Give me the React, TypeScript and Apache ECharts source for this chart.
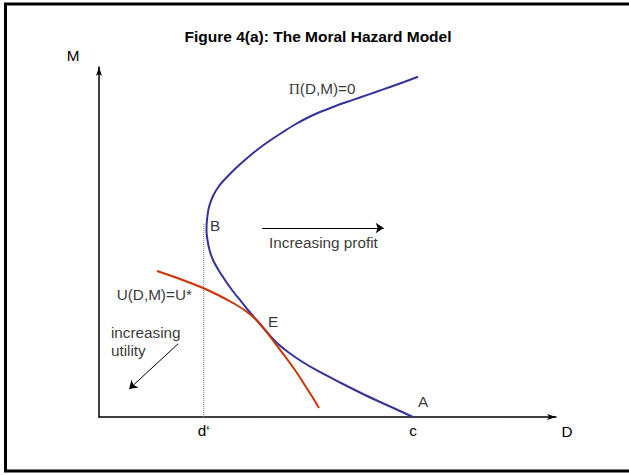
import React, { useEffect, useRef } from "react";
import * as echarts from "echarts";

// Zero-profit curve Π(D,M)=0, from A on the D axis, round the nose at B, up to the top
const profitCurve: [number, number][] = [
  [68.71, 0], [63.46, 3.14], [58.21, 6.29], [52.74, 9.86], [47.7, 13.29], [44.2, 16.0],
  [41.36, 18.57], [38.95, 21.14], [36.54, 24.57], [34.46, 27.71], [32.6, 30.57],
  [30.85, 33.43], [29.1, 36.29], [27.57, 39.14], [26.15, 42.0], [24.95, 44.86],
  [24.18, 47.71], [23.74, 50.57], [23.52, 53.43], [23.63, 56.29], [24.07, 60.0],
  [24.95, 63.14], [26.26, 66.0], [28.01, 68.57], [29.98, 71.14], [32.17, 73.71],
  [34.57, 76.29], [37.42, 79.0], [40.26, 81.43], [42.89, 83.57], [45.51, 85.43],
  [48.36, 87.14], [51.2, 88.57], [54.05, 89.91], [57.11, 91.29], [60.39, 92.77],
  [63.68, 94.29], [66.74, 95.71], [69.8, 97.2],
];

// Indifference curve U(D,M)=U*
const utilityCurve: [number, number][] = [
  [12.69, 41.71], [17.72, 39.43], [22.76, 36.86], [26.04, 34.86], [29.32, 32.57],
  [31.95, 30.43], [34.35, 27.86], [36.54, 24.57], [38.73, 20.71], [41.14, 16.57],
  [43.33, 12.57], [45.08, 9.0], [46.83, 5.43], [48.14, 2.57],
];

// Dotted guide from d' up to B
const guideLine: [number, number][] = [[22.9, 0], [22.9, 55.4]];

// Arrows: increasing profit, increasing utility
const profitArrow: [number, number][] = [[35.7, 54.0], [62.3, 54.0]];
const utilityArrow: [number, number][] = [[17.3, 20.9], [6.6, 8.0]];

// D-axis tick labels
const xTickValues = [22.9, 68.7];
const xTickLabels = ["d\u2018", "c"];

// Annotations (text, anchor D, anchor M)
const noteTexts = ["A", "B", "E", "{pi|\u03A0}(D,M)=0", "U(D,M)=U*", "increasing\nutility", "Increasing profit"];
const noteD = [70.9, 25.4, 38.1, 41.5, 12.1, 2.6, 37.2];
const noteM = [4.3, 54.6, 27.4, 94.0, 34.9, 21.7, 50.0];
const noteAlign = ["center", "center", "center", "left", "center", "left", "left"];

const titleText = "Figure 4(a): The Moral Hazard Model";

const FONT = "'Liberation Sans', Arial, sans-serif";

export default function App() {
  const ref = useRef<HTMLDivElement>(null);
  useEffect(() => {
    document.body.style.margin = "0";
    const chart = echarts.init(ref.current!, null, { renderer: "svg" });
    const notes = noteTexts.map((t, i) => ({
      value: [noteD[i], noteM[i]],
      label: { formatter: t, align: noteAlign[i] },
    }));
    const axisLine = {
      onZero: false,
      symbol: ["none", "arrow"],
      symbolSize: [4.5, 9],
      lineStyle: { color: "#000", width: 1.5 },
    };
    chart.setOption({
      animation: false,
      backgroundColor: "#fff",
      textStyle: { fontFamily: FONT },
      title: {
        text: titleText,
        left: 318,
        textAlign: "center",
        top: 28,
        padding: 0,
        textStyle: { fontFamily: FONT, fontWeight: "bold", fontSize: 15.5, color: "#000" },
      },
      grid: { left: 99, right: 73, top: 67, bottom: 58 },
      xAxis: {
        type: "value",
        min: 0,
        max: 100,
        splitLine: { show: false },
        axisTick: { show: false },
        axisLine,
        axisLabel: {
          customValues: xTickValues,
          margin: 6,
          fontFamily: FONT,
          fontSize: 15.3,
          color: "#000",
          formatter: (v: number) => {
            const k = xTickValues.findIndex((x) => Math.abs(x - v) < 1e-6);
            return k >= 0 ? xTickLabels[k] : "";
          },
        },
      },
      yAxis: {
        type: "value",
        min: 0,
        max: 100,
        splitLine: { show: false },
        axisTick: { show: false },
        axisLabel: { show: false },
        axisLine,
      },
      graphic: [
        {
          type: "rect",
          shape: { x: 5.5, y: 4, width: 640, height: 467 },
          style: { fill: "none", stroke: "#000", lineWidth: 3 },
          silent: true,
        },
        {
          type: "text",
          x: 73,
          y: 55,
          style: { text: "M", font: `15.3px ${FONT}`, fill: "#000", align: "center", verticalAlign: "middle" },
        },
        {
          type: "text",
          x: 567,
          y: 431,
          style: { text: "D", font: `15.3px ${FONT}`, fill: "#000", align: "center", verticalAlign: "middle" },
        },
      ],
      series: [
        {
          type: "line",
          data: guideLine,
          showSymbol: false,
          lineStyle: { color: "#888", width: 1, type: "dotted" },
          silent: true,
        },
        {
          type: "line",
          data: profitCurve,
          smooth: 0.3,
          showSymbol: false,
          lineStyle: { color: "#333399", width: 2 },
          silent: true,
        },
        {
          type: "line",
          data: utilityCurve,
          smooth: 0.3,
          showSymbol: false,
          lineStyle: { color: "#CC3300", width: 2 },
          silent: true,
        },
        {
          type: "lines",
          coordinateSystem: "cartesian2d",
          silent: true,
          symbol: ["none", "arrow"],
          symbolSize: [4.5, 8],
          lineStyle: { color: "#000", width: 1, type: "solid", opacity: 1 },
          data: [{ coords: profitArrow }, { coords: utilityArrow }],
        },
        {
          type: "scatter",
          data: notes,
          symbolSize: 1,
          clip: false,
          itemStyle: { color: "rgba(0,0,0,0)" },
          silent: true,
          label: {
            show: true,
            position: "inside",
            verticalAlign: "middle",
            color: "#000",
            fontFamily: FONT,
            fontSize: 15.3,
            lineHeight: 18,
            rich: { pi: { fontFamily: "'Liberation Serif', 'Times New Roman', serif", fontSize: 15.5, color: "#000" } },
          },
        },
      ],
    });
    return () => chart.dispose();
  }, []);
  return <div ref={ref} style={{ width: 629, height: 475 }} />;
}
